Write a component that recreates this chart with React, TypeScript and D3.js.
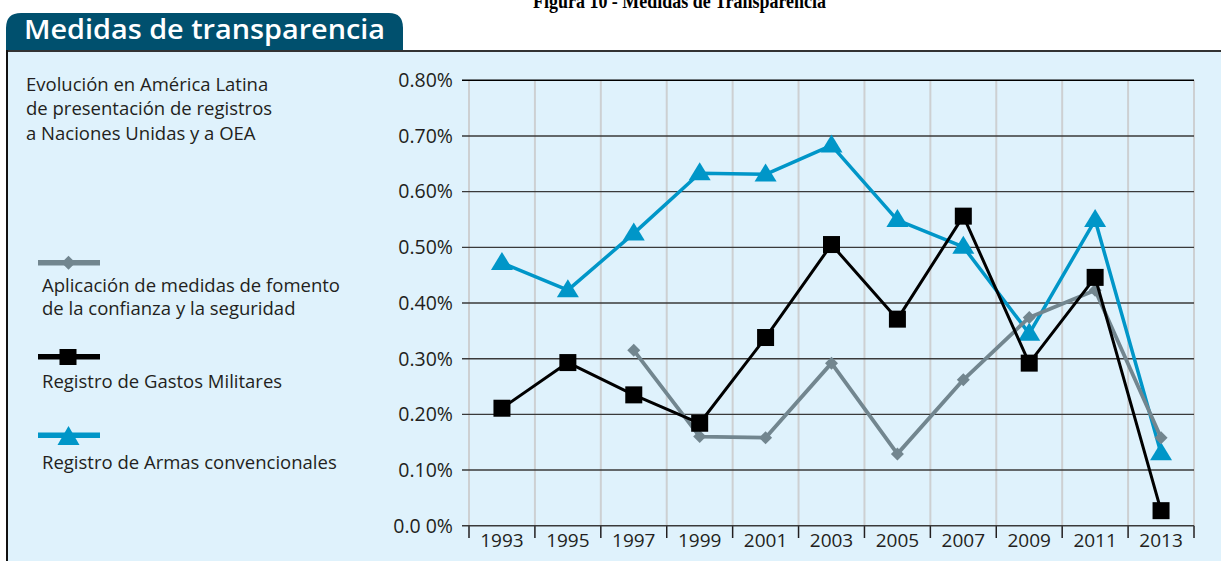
import React from "react";
import * as d3 from "d3";

const years = ["1993", "1995", "1997", "1999", "2001", "2003", "2005", "2007", "2009", "2011", "2013"];
// % values
const confianza = [null, null, 0.315, 0.16, 0.158, 0.292, 0.129, 0.262, 0.374, 0.423, 0.158];
const gastos = [0.211, 0.293, 0.235, 0.184, 0.338, 0.505, 0.371, 0.556, 0.292, 0.446, 0.027];
const armas = [0.472, 0.423, 0.525, 0.633, 0.631, 0.683, 0.549, 0.501, 0.345, 0.549, 0.13];
const yTicks = [0, 0.1, 0.2, 0.3, 0.4, 0.5, 0.6, 0.7, 0.8];
const yTickLabels = ["0.0 0%", "0.10%", "0.20%", "0.30%", "0.40%", "0.50%", "0.60%", "0.70%", "0.80%"];
const subtitle = ["Evolución en América Latina", "de presentación de registros", "a Naciones Unidas y a OEA"];
const legendLabels = [
  ["Aplicación de medidas de fomento", "de la confianza y la seguridad"],
  ["Registro de Gastos Militares"],
  ["Registro de Armas convencionales"],
];

const BG = "#dff2fc";
const TAB = "#00506e";
const BLUE = "#0096c8";
const GRAY = "#72868f";
const INK = "#231f20";
const FONT = "'Open Sans', 'Noto Sans', sans-serif";

const tri = (s: number) => `M0,${-s}L${s},${s * 0.64}L${-s},${s * 0.64}Z`;
const diamond = (s: number) => `M0,${-s}L${s},0L0,${s}L${-s},0Z`;

export default function App() {
  const x = d3.scaleBand<string>().domain(years).range([469, 1194]);
  const y = d3.scaleLinear().domain([0, 0.8]).range([525.7, 80.3]);
  const cx = (i: number) => (x(years[i]) as number) + x.bandwidth() / 2;

  const line = d3
    .line<number | null>()
    .defined((d) => d != null)
    .x((_, i) => cx(i))
    .y((d) => y(d as number));

  const bounds = years.map((yr) => x(yr) as number).concat([x.range()[1]]);

  return (
    <svg
      width={1221}
      height={561}
      style={{ position: "absolute", left: 0, top: 0, display: "block" }}
      fontFamily={FONT}
    >
      <rect x={0} y={0} width={1221} height={561} fill="#fff" />
      <text
        x={533}
        y={8}
        fontFamily="'Liberation Serif', serif"
        fontWeight="bold"
        fontSize={21}
        textLength={293}
        lengthAdjust="spacingAndGlyphs"
        fill="#000"
      >
        Figura 10 - Medidas de Transparencia
      </text>

      {/* panel */}
      <rect x={7} y={51} width={1214} height={510} fill={BG} />
      <path d="M6,50 L6,28 Q6,13 21,13 L389,13 Q403,13 403,28 L403,50 Z" fill={TAB} />
      <line x1={6} x2={1221} y1={51} y2={51} stroke="#333" strokeWidth={2} />
      <line x1={7} x2={7} y1={50} y2={561} stroke="#111" strokeWidth={2} />
      <text x={24} y={39} fill="#fff" fontSize={27} fontWeight={600} textLength={361} lengthAdjust="spacingAndGlyphs">
        Medidas de transparencia
      </text>

      {subtitle.map((t, i) => (
        <text key={t} x={26} y={90.5 + i * 24.5} fontSize={18.5} fill={INK}>
          {t}
        </text>
      ))}

      {/* vertical grid */}
      {bounds.map((bx, i) => (
        <g key={"v" + i}>
          <line x1={bx} x2={bx} y1={y(0.8)} y2={y(0)} stroke="#cdd0d2" strokeWidth={2} />
          <line x1={bx} x2={bx} y1={y(0)} y2={538} stroke={INK} strokeWidth={1.5} />
        </g>
      ))}

      {/* horizontal grid */}
      {yTicks.map((t, i) => (
        <g key={"h" + i}>
          <line
            x1={462}
            x2={1194}
            y1={y(t)}
            y2={y(t)}
            stroke={i === yTicks.length - 1 ? "#000" : "#3a3a3a"}
            strokeWidth={1.4}
          />
          <text x={453} y={y(t)} dy="0.35em" textAnchor="end" fontSize={19.5} fill={INK}>
            {yTickLabels[i]}
          </text>
        </g>
      ))}

      {years.map((yr, i) => (
        <text key={yr} x={cx(i)} y={547} textAnchor="middle" fontSize={19} fill={INK}>
          {yr}
        </text>
      ))}

      {/* series */}
      <path d={line(armas) || ""} fill="none" stroke={BLUE} strokeWidth={3.5} strokeLinejoin="round" />
      {armas.map((v, i) => (
        <path key={"a" + i} d={tri(11)} transform={`translate(${cx(i)},${y(v)})`} fill={BLUE} />
      ))}
      <path d={line(confianza) || ""} fill="none" stroke={GRAY} strokeWidth={3.8} strokeLinejoin="round" />
      {confianza.map((v, i) =>
        v == null ? null : (
          <path key={"c" + i} d={diamond(6.5)} transform={`translate(${cx(i)},${y(v)})`} fill={GRAY} />
        )
      )}
      <path d={line(gastos) || ""} fill="none" stroke="#000" strokeWidth={3} strokeLinejoin="round" />
      {gastos.map((v, i) => (
        <rect key={"g" + i} x={cx(i) - 8.5} y={y(v) - 8.5} width={17} height={17} fill="#000" />
      ))}

      {/* legend */}
      <g>
        <line x1={38} x2={100} y1={262.7} y2={262.7} stroke={GRAY} strokeWidth={5.5} />
        <path d={diamond(7)} transform="translate(68.5,262.7)" fill={GRAY} />
        <line x1={38} x2={100} y1={356.7} y2={356.7} stroke="#000" strokeWidth={5.5} />
        <rect x={59.5} y={349} width={17} height={16} fill="#000" />
        <line x1={38} x2={100} y1={435.3} y2={435.3} stroke={BLUE} strokeWidth={5.5} />
        <path d="M68.5,426 L79.5,445 L57.5,445 Z" fill={BLUE} />
        {legendLabels[0].map((t, i) => (
          <text key={t} x={42} y={291.5 + i * 23.5} fontSize={18.5} fill={INK}>
            {t}
          </text>
        ))}
        <text x={42} y={387.5} fontSize={18.5} fill={INK}>
          {legendLabels[1][0]}
        </text>
        <text x={42} y={469.3} fontSize={18.5} fill={INK}>
          {legendLabels[2][0]}
        </text>
      </g>
    </svg>
  );
}
